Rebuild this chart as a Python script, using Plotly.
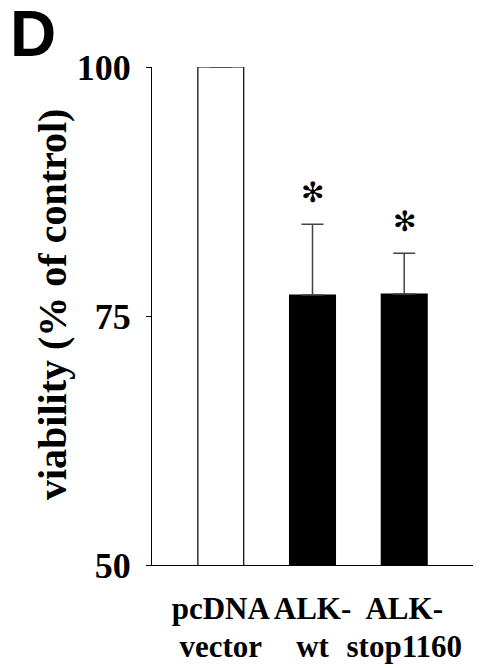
import plotly.graph_objects as go

label_line1 = ["pcDNA", "ALK-", "ALK-"]
label_line2 = ["vector", "wt", "stop1160"]
viability = [100, 77.1, 77.2]
sem_up = [None, 7.1, 4.1]
bar_colors = ["white", "black", "black"]
significant = ["", "✻", "✻"]
y_ticks = [50, 75, 100]

xpos = list(range(len(label_line1)))
serif = "Liberation Serif, Times New Roman, serif"

fig = go.Figure()
fig.add_trace(go.Bar(
    x=xpos, y=viability, width=0.5,
    marker=dict(color=bar_colors, line=dict(color="black", width=1.2)),
    error_y=dict(type="data", symmetric=False, array=sem_up,
                 arrayminus=[0] * len(viability),
                 color="#444444", thickness=1.5, width=11),
    showlegend=False,
))
# invisible trace on the second x axis so that its tick labels are drawn
fig.add_trace(go.Scatter(x=xpos, y=viability, xaxis="x2", mode="markers",
                         marker=dict(opacity=0), hoverinfo="skip", showlegend=False))

for xi, v, e, s in zip(xpos, viability, sem_up, significant):
    if s:
        fig.add_annotation(x=xi, y=v + e, text=s, showarrow=False,
                           yanchor="bottom", yshift=13,
                           font=dict(family="DejaVu Sans", size=28, color="black"))

fig.add_annotation(xref="paper", yref="paper", x=(-152 + 8) / 321, y=1 + 33 / 498,
                   xanchor="left", yanchor="middle", text="<b>D</b>", showarrow=False,
                   font=dict(family="Liberation Sans", size=64, color="black"))

fig.add_annotation(xref="paper", yref="paper", x=(52 - 152) / 321, y=(565 - 305) / 498,
                   xanchor="center", yanchor="middle", textangle=-90,
                   text="<b>viability (% of control)</b>", showarrow=False,
                   font=dict(family=serif, size=40, color="black"))

fig.update_layout(
    width=485, height=668,
    margin=dict(l=152, r=12, t=67, b=103, autoexpand=False),
    plot_bgcolor="white", paper_bgcolor="white",
    bargap=0.5,
    font=dict(family=serif, color="black"),
)
common_x = dict(range=[-0.75, 2.75], tickvals=xpos, tickangle=0, automargin=False,
                ticks="", showgrid=False, zeroline=False,
                tickfont=dict(family=serif, size=31, color="black"))
fig.update_layout(
    xaxis=dict(**common_x, ticktext=["<b>%s</b>" % t for t in label_line1],
               showline=True, linecolor="black", linewidth=1.2,
               ticklabelstandoff=16),
    xaxis2=dict(**common_x, ticktext=["<b>%s</b>" % t for t in label_line2],
                overlaying="x", side="bottom", anchor="y", showline=False,
                ticklabelstandoff=60),
)
fig.update_yaxes(
    range=[50, 100], tickvals=y_ticks,
    ticktext=["<b>%d</b>" % t for t in y_ticks],
    tickfont=dict(family=serif, size=36, color="black"),
    automargin=False,
    showline=True, linecolor="black", linewidth=1.2,
    ticks="outside", ticklen=5, tickcolor="black", tickwidth=1.2,
    showgrid=False, zeroline=False,
    ticklabelstandoff=8,
)

fig.write_html("out.html", config={"displayModeBar": False},
               post_script="document.body.style.margin='0px';")
